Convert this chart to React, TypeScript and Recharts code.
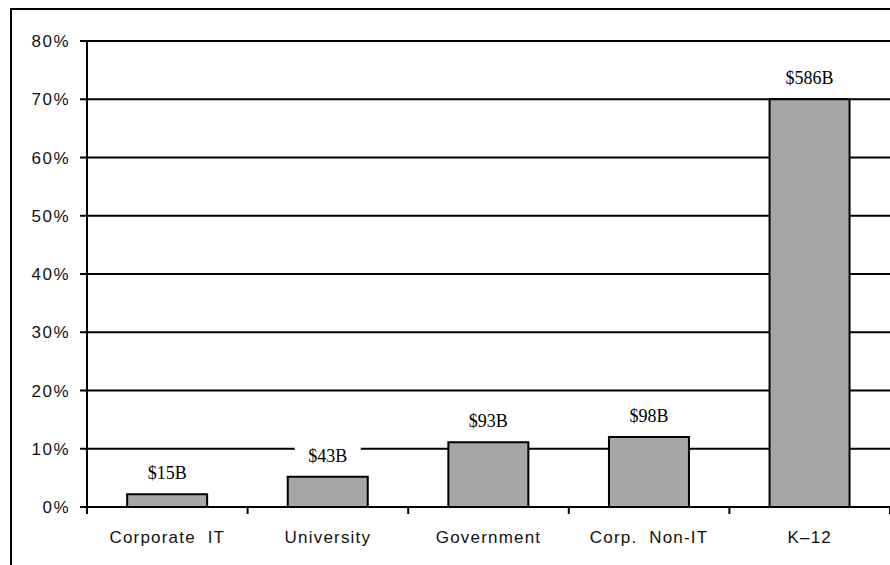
import { BarChart, Bar, XAxis, YAxis, CartesianGrid, LabelList } from 'recharts'

const segments = ['Corporate  IT', 'University', 'Government', 'Corp.  Non-IT', 'K\u201312']
const shares = [2.2, 5.2, 11.1, 12.0, 70.0]
const amounts = ['$15B', '$43B', '$93B', '$98B', '$586B']
const yTicks = [0, 10, 20, 30, 40, 50, 60, 70, 80]

const data = segments.map((name, i) => ({ name, share: shares[i], amount: amounts[i] }))

const sans = '"Liberation Sans", Arial, sans-serif'
const serif = '"Liberation Serif", "Times New Roman", serif'

function CategoryTick(props: any) {
	const { x, y, payload, index } = props
	const half = payload.offset || 0
	const last = index === segments.length - 1
	return (
		<g>
			<line x1={x - half} x2={x - half} y1={y} y2={y + 7} stroke="#000" strokeWidth={2} />
			{last && <line x1={x + half} x2={x + half} y1={y} y2={y + 7} stroke="#000" strokeWidth={2} />}
			<text
				x={x}
				y={y + 36}
				textAnchor="middle"
				fontFamily={sans}
				fontSize={17}
				letterSpacing={1.2}
				fill="#111"
				style={{ whiteSpace: 'pre' }}
			>
				{payload.value}
			</text>
		</g>
	)
}

function AmountLabel(props: any) {
	const { x, y, width, value } = props
	const cx = x + width / 2
	const base = y - 15
	return (
		<g>
			<rect x={cx - 33} y={base - 17} width={66} height={22} fill="#fff" />
			<text x={cx} y={base} textAnchor="middle" fontFamily={serif} fontSize={18} fill="#000">
				{value}
			</text>
		</g>
	)
}

export default function App() {
	return (
		<div>
			<style>{'body{margin:0;overflow:hidden;background:#fff}'}</style>
			<div
				style={{
					marginLeft: 10,
					marginTop: 8,
					borderLeft: '2px solid #000',
					borderTop: '2px solid #000',
					width: 878,
					height: 555
				}}
			>
				<BarChart
					width={878}
					height={555}
					data={data}
					margin={{ top: 31, right: 0, left: 0, bottom: 0 }}
					barCategoryGap="25%"
				>
					<CartesianGrid vertical={false} stroke="#000" strokeWidth={2} />
					<XAxis
						dataKey="name"
						height={58}
						tickLine={false}
						tickSize={0}
						tickMargin={0}
						axisLine={{ stroke: '#000', strokeWidth: 2 }}
						tick={(p: any) => <CategoryTick {...p} />}
						interval={0}
					/>
					<YAxis
						width={75}
						domain={[0, 80]}
						ticks={yTicks}
						tickFormatter={(v: number) => `${v}%`}
						axisLine={{ stroke: '#000', strokeWidth: 2 }}
						tickLine={{ stroke: '#000', strokeWidth: 2 }}
						tickSize={7}
						tickMargin={10}
						tick={{ fontFamily: sans, fontSize: 17, fill: '#111', letterSpacing: 1.5 }}
						interval={0}
					/>
					<Bar dataKey="share" fill="#a6a6a6" stroke="#000" strokeWidth={2} isAnimationActive={false}>
						<LabelList dataKey="amount" content={(p: any) => <AmountLabel {...p} />} />
					</Bar>
				</BarChart>
			</div>
		</div>
	)
}
